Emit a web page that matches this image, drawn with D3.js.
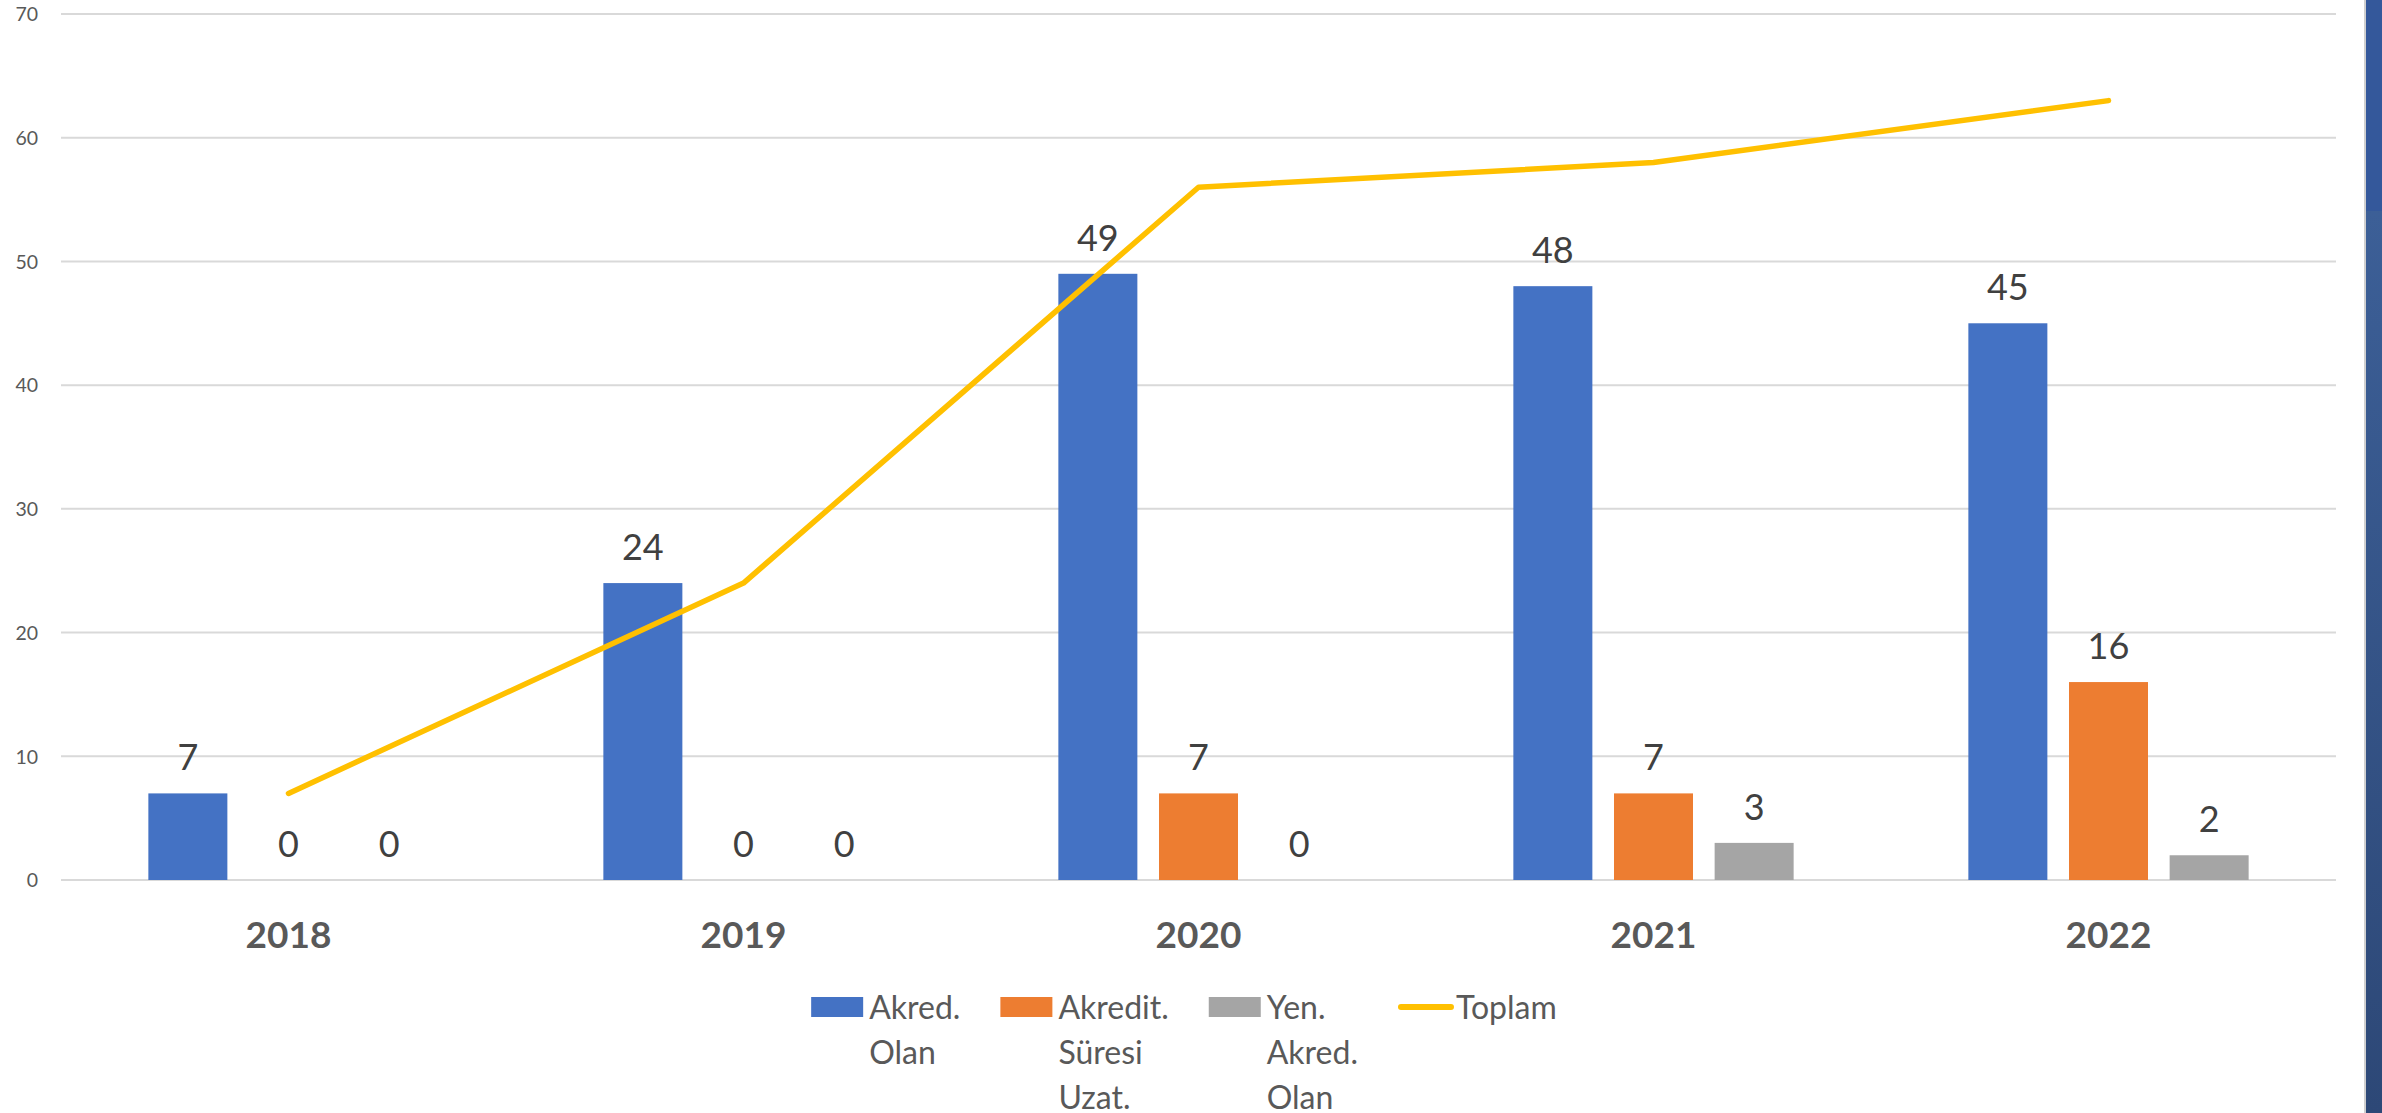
<!DOCTYPE html>
<html>
<head>
<meta charset="utf-8">
<script src="https://cdn.jsdelivr.net/npm/d3@7"></script>
<style>
  html, body { margin: 0; padding: 0; background: #ffffff; }
  svg { display: block; }
  text { font-family: Lato, "Open Sans", sans-serif; }
</style>
</head>
<body>
<svg id="chart" width="2382" height="1113"></svg>
<script>
// ---- data ----
const years = ["2018", "2019", "2020", "2021", "2022"];
const seriesNames = ["Akred. Olan", "Akredit. Süresi Uzat.", "Yen. Akred. Olan"];
const akredOlan = [7, 24, 49, 48, 45];
const akreditSuresiUzat = [0, 0, 7, 7, 16];
const yenAkredOlan = [0, 0, 0, 3, 2];
const toplam = [7, 24, 56, 58, 63];
const lineName = "Toplam";
const yTicks = [0, 10, 20, 30, 40, 50, 60, 70];

const seriesValues = [akredOlan, akreditSuresiUzat, yenAkredOlan];
const seriesColors = ["#4472C4", "#ED7D31", "#A5A5A5"];
const lineColor = "#FFC000";

// ---- layout ----
const W = 2382, H = 1113;
const plotLeft = 61, plotRight = 2336, plotTop = 14, plotBottom = 880;
const chartCenter = 1184;

const svg = d3.select("#chart");
svg.append("rect").attr("x", 0).attr("y", 0).attr("width", W).attr("height", H).attr("fill", "#ffffff");

// right side decoration (slide edge)
const defs = svg.append("defs");
const grad = defs.append("linearGradient").attr("id", "sideGrad").attr("x1", 0).attr("y1", 0).attr("x2", 0).attr("y2", 1);
grad.append("stop").attr("offset", "0%").attr("stop-color", "#3c5f97");
grad.append("stop").attr("offset", "100%").attr("stop-color", "#2d4877");
svg.append("rect").attr("x", 2364).attr("y", 0).attr("width", 2).attr("height", H).attr("fill", "#cfcfcf");
svg.append("rect").attr("x", 2366).attr("y", 211).attr("width", 16).attr("height", H - 211).attr("fill", "url(#sideGrad)");
svg.append("rect").attr("x", 2366).attr("y", 0).attr("width", 16).attr("height", 211).attr("fill", "#34589b");

// scales
const y = d3.scaleLinear().domain([0, 70]).range([plotBottom, plotTop]);
const x0 = d3.scaleBand().domain(years).range([plotLeft, plotRight]).paddingInner(0).paddingOuter(0);
const outer = x0.bandwidth() * 0.192;
const x1 = d3.scaleBand().domain(seriesNames).range([outer, x0.bandwidth() - outer]).paddingInner(0.215).paddingOuter(0);

// gridlines
svg.append("g").selectAll("line").data(yTicks).join("line")
  .attr("x1", plotLeft).attr("x2", plotRight)
  .attr("y1", d => y(d)).attr("y2", d => y(d))
  .attr("stroke", "#d9d9d9").attr("stroke-width", 2);

// y axis labels
const yAxis = d3.axisLeft(y).tickValues(yTicks).tickSize(0).tickPadding(0);
const yg = svg.append("g").attr("transform", `translate(38,0)`).call(yAxis);
yg.select(".domain").remove();
yg.selectAll("text").attr("fill", "#595959").attr("font-size", "19.5px").attr("font-family", "Lato, sans-serif").attr("dy", "0.35em").attr("x", 0);

// x axis labels
const xAxis = d3.axisBottom(x0).tickSize(0).tickPadding(0);
const xg = svg.append("g").attr("transform", `translate(0,${plotBottom})`).call(xAxis);
xg.select(".domain").remove();
xg.selectAll("text").attr("fill", "#595959").attr("font-size", "37px").attr("font-weight", "bold")
  .attr("font-family", "Lato, sans-serif").attr("dy", null).attr("y", 68);

// bars
const barData = [];
years.forEach((yr, i) => {
  seriesNames.forEach((s, j) => barData.push({ year: yr, series: s, value: seriesValues[j][i], color: seriesColors[j] }));
});
const bars = svg.append("g");
bars.selectAll("rect").data(barData.filter(d => d.value > 0)).join("rect")
  .attr("x", d => x0(d.year) + x1(d.series))
  .attr("y", d => y(d.value))
  .attr("width", x1.bandwidth())
  .attr("height", d => y(0) - y(d.value))
  .attr("fill", d => d.color);

// bar labels
bars.selectAll("text").data(barData).join("text")
  .attr("x", d => x0(d.year) + x1(d.series) + x1.bandwidth() / 2)
  .attr("y", d => y(d.value) - 23)
  .attr("text-anchor", "middle")
  .attr("fill", "#404040")
  .attr("font-size", "36px")
  .text(d => d.value);

// total line
const line = d3.line().x((d, i) => x0(years[i]) + x0.bandwidth() / 2).y(d => y(d));
svg.append("path").datum(toplam)
  .attr("d", line)
  .attr("fill", "none")
  .attr("stroke", lineColor)
  .attr("stroke-width", 5.5)
  .attr("stroke-linecap", "round")
  .attr("stroke-linejoin", "round");

// legend
const legendItems = seriesNames.map((s, j) => ({ name: s, color: seriesColors[j], type: "rect" }))
  .concat([{ name: lineName, color: lineColor, type: "line" }]);
const legendFont = 32;
const legendLineH = 45;
const swatchW = 52, swatchH = 20, swatchGap = 6, itemGap = 40;
const legendBaseline = 1019;

const measure = svg.append("text").attr("font-size", legendFont + "px").attr("visibility", "hidden");
legendItems.forEach(it => {
  it.lines = it.name.split(" ");
  it.textW = d3.max(it.lines, l => { measure.text(l); return measure.node().getComputedTextLength(); });
  it.w = swatchW + swatchGap + it.textW;
});
measure.remove();
const totalW = d3.sum(legendItems, d => d.w) + itemGap * (legendItems.length - 1);
let cx = chartCenter - totalW / 2;
const lg = svg.append("g");
legendItems.forEach(it => {
  const g = lg.append("g").attr("transform", `translate(${cx},0)`);
  if (it.type === "rect") {
    g.append("rect").attr("x", 0).attr("y", 997).attr("width", swatchW).attr("height", swatchH).attr("fill", it.color);
  } else {
    g.append("line").attr("x1", 3).attr("x2", swatchW + 1).attr("y1", 1007).attr("y2", 1007)
      .attr("stroke", it.color).attr("stroke-width", 6).attr("stroke-linecap", "round");
  }
  const t = g.append("text").attr("x", swatchW + swatchGap).attr("y", legendBaseline)
    .attr("fill", "#595959").attr("font-size", legendFont + "px");
  it.lines.forEach((l, k) => {
    t.append("tspan").attr("x", swatchW + swatchGap).attr("y", legendBaseline + k * legendLineH).text(l);
  });
  cx += it.w + itemGap;
});
</script>
</body>
</html>
